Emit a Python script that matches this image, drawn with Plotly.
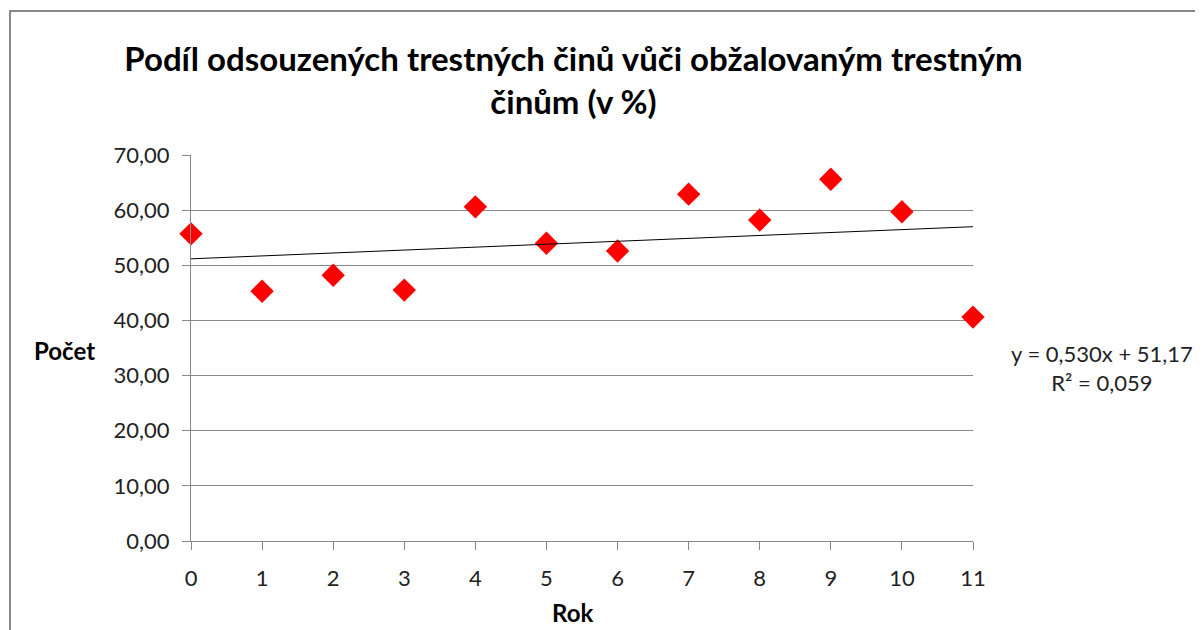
import plotly.graph_objects as go

# data
rok = [0, 1, 2, 3, 4, 5, 6, 7, 8, 9, 10, 11]
podil = [55.7, 45.3, 48.2, 45.5, 60.6, 54.0, 52.6, 62.9, 58.2, 65.6, 59.7, 40.6]

# linear trend as printed in the chart
trend_slope = 0.530
trend_intercept = 51.17
trend_r2 = 0.059

y_ticks = [0, 10, 20, 30, 40, 50, 60, 70]

OFF = 8  # page body margin
W, H = 1203, 630
L, R, T, B = 191 - OFF, 973 - OFF, 155 - OFF, 541 - OFF  # plot area in px


def px(x):
    return (x - OFF - L) / (R - L)


def py(y):
    return (B - (y - OFF)) / (B - T)


font = "Lato, 'Open Sans', sans-serif"

trend_x = [rok[0], rok[-1]]
trend_y = [trend_intercept + trend_slope * v for v in trend_x]

fig = go.Figure()
fig.add_trace(go.Scatter(
    x=rok, y=podil, mode="markers",
    marker=dict(symbol="diamond", size=18, color="#FF0000", line=dict(width=0)),
    showlegend=False, cliponaxis=False,
))
fig.add_trace(go.Scatter(
    x=trend_x, y=trend_y, mode="lines",
    line=dict(color="#000000", width=1),
    showlegend=False,
))

fig.update_layout(
    width=W, height=H,
    margin=dict(l=L, r=W - R, t=T, b=H - B),
    plot_bgcolor="white", paper_bgcolor="white",
    separators=", ",
    font=dict(family=font, size=22, color="#222"),
    title=dict(
        text="<b>Podíl odsouzených trestných činů vůči obžalovaným trestným<br>činům (v %)</b>",
        x=(573.5 - OFF) / W, xanchor="center", xref="container",
        y=1 - (71 - OFF) / H, yanchor="middle", yref="container",
        font=dict(family=font, size=33, color="#000"),
    ),
    xaxis=dict(
        range=[0, 11], tickvals=rok, showgrid=False,
        showline=True, linecolor="#888", linewidth=1,
        ticks="outside", ticklen=8, tickcolor="#888",
        ticklabelstandoff=10,
        zeroline=False,
    ),
    yaxis=dict(
        range=[0, 70], tickvals=y_ticks, tickformat=".2f",
        showgrid=True, gridcolor="#888", gridwidth=1,
        showline=True, linecolor="#888", linewidth=1,
        ticks="outside", ticklen=8, tickcolor="#888",
        ticklabelstandoff=8,
        zeroline=False,
    ),
    annotations=[
        dict(text="<b>Počet</b>", xref="paper", yref="paper",
             x=px(64), y=py(350), xanchor="center", yanchor="middle",
             showarrow=False,
             font=dict(family=font, size=24, color="#000")),
        dict(text="<b>Rok</b>", xref="paper", yref="paper",
             x=px(572), y=py(612), xanchor="center", yanchor="middle",
             showarrow=False,
             font=dict(family=font, size=24, color="#000")),
        dict(text=f"y = {trend_slope:.3f}x + {trend_intercept:.2f}<br>R² = {trend_r2:.3f}".replace(".", ","),
             xref="paper", yref="paper", x=px(1102), y=py(368),
             xanchor="center", yanchor="middle",
             showarrow=False, align="center",
             font=dict(family=font, size=22, color="#222")),
    ],
    shapes=[
        dict(type="rect", xref="paper", yref="paper",
             x0=px(10), x1=px(1240), y0=py(11), y1=py(680),
             line=dict(color="#888", width=2), layer="below"),
    ],
)

fig.write_html("out.html")
